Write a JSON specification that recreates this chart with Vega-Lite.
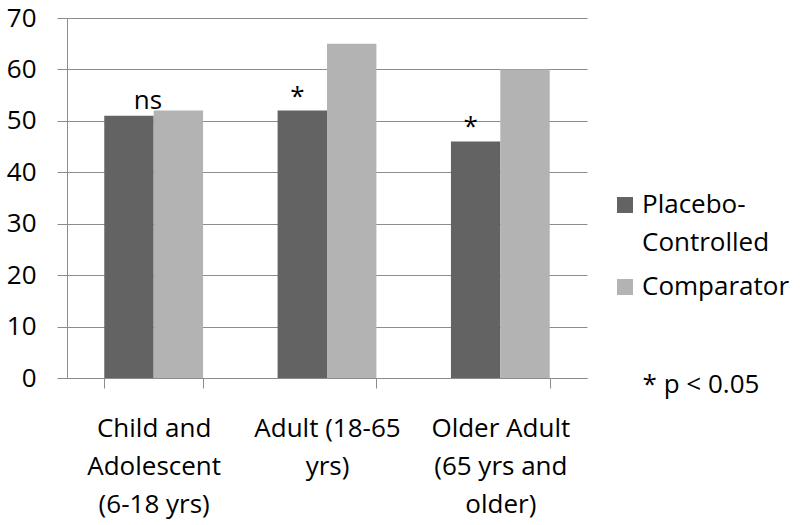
{
  "$schema": "https://vega.github.io/schema/vega-lite/v6.json",
  "width": 520,
  "height": 360,
  "autosize": {"type": "none"},
  "padding": {"left": 67, "top": 18, "right": 213, "bottom": 147},
  "background": "white",
  "config": {
    "view": {"stroke": null},
    "font": "Open Sans",
    "style": {"guide-label": {"lineHeight": 38}},
    "axis": {
      "labelFont": "Open Sans",
      "labelFontSize": 26,
      "labelColor": "#000000",
      "domainColor": "#8c8c8c",
      "tickColor": "#8c8c8c",
      "gridColor": "#8c8c8c",
      "domainWidth": 1,
      "tickWidth": 1,
      "gridWidth": 1,
      "tickSize": 10,
      "title": null
    }
  },
  "data": {
    "values": [
      {"group": "Child and Adolescent (6-18 yrs)", "series": "Placebo-Controlled", "value": 51, "sig": "ns"},
      {"group": "Child and Adolescent (6-18 yrs)", "series": "Comparator", "value": 52, "sig": ""},
      {"group": "Adult (18-65 yrs)", "series": "Placebo-Controlled", "value": 52, "sig": "*"},
      {"group": "Adult (18-65 yrs)", "series": "Comparator", "value": 65, "sig": ""},
      {"group": "Older Adult (65 yrs and older)", "series": "Placebo-Controlled", "value": 46, "sig": "*"},
      {"group": "Older Adult (65 yrs and older)", "series": "Comparator", "value": 60, "sig": ""}
    ]
  },
  "encoding": {
    "x": {
      "field": "group",
      "type": "nominal",
      "sort": null,
      "scale": {"paddingInner": 0.43, "paddingOuter": 0.215},
      "axis": {
        "labelAngle": 0,
        "tickBand": "extent",
        "labelPadding": 27,
        "labelBaseline": "top",
        "labelLineHeight": 38,
        "labelLimit": 0,
        "grid": false,
        "labelExpr": "datum.label == 'Child and Adolescent (6-18 yrs)' ? ['Child and', 'Adolescent', '(6-18 yrs)'] : datum.label == 'Adult (18-65 yrs)' ? ['Adult (18-65', 'yrs)'] : datum.label == 'Older Adult (65 yrs and older)' ? ['Older Adult', '(65 yrs and', 'older)'] : ''"
      }
    },
    "xOffset": {
      "field": "series",
      "type": "nominal",
      "scale": {"domain": ["Placebo-Controlled", "Comparator"], "paddingInner": 0, "paddingOuter": 0}
    },
    "y": {
      "field": "value",
      "type": "quantitative",
      "scale": {"domain": [0, 70], "nice": false},
      "axis": {"values": [0, 10, 20, 30, 40, 50, 60, 70], "labelPadding": 21, "grid": true}
    }
  },
  "layer": [
    {
      "mark": {"type": "bar"},
      "encoding": {
        "color": {
          "field": "series",
          "type": "nominal",
          "scale": {"domain": ["Placebo-Controlled", "Comparator"], "range": ["#636363", "#b3b3b3"]},
          "legend": {
            "orient": "none",
            "legendX": 545,
            "legendY": 174,
            "title": "* p < 0.05",
            "titleOrient": "bottom",
            "titleAnchor": "middle",
            "titleAlign": "center",
            "titleFont": "Open Sans",
            "titleFontSize": 26,
            "titleFontWeight": "normal",
            "titleColor": "#000000",
            "titlePadding": 72,
            "titleLimit": 0,
            "symbolType": "square",
            "symbolSize": 256,
            "symbolStrokeWidth": 0,
            "symbolOpacity": 1,
            "labelFont": "Open Sans",
            "labelFontSize": 26,
            "labelColor": "#000000",
            "labelLimit": 0,
            "labelOffset": 4,
            "rowPadding": 18,
            "labelExpr": "datum.label == 'Placebo-Controlled' ? ['Placebo-', 'Controlled'] : datum.label"
          }
        }
      }
    },
    {
      "transform": [{"filter": "datum.sig == 'ns'"}],
      "mark": {"type": "text", "dx": 19, "dy": -7, "baseline": "alphabetic", "fontSize": 26, "font": "Open Sans", "color": "#000000"},
      "encoding": {"text": {"field": "sig"}}
    },
    {
      "transform": [{"filter": "datum.sig == '*'"}],
      "mark": {"type": "text", "dx": -5, "dy": -6, "baseline": "alphabetic", "fontSize": 26, "font": "Open Sans", "color": "#000000"},
      "encoding": {"text": {"field": "sig"}}
    }
  ]
}
